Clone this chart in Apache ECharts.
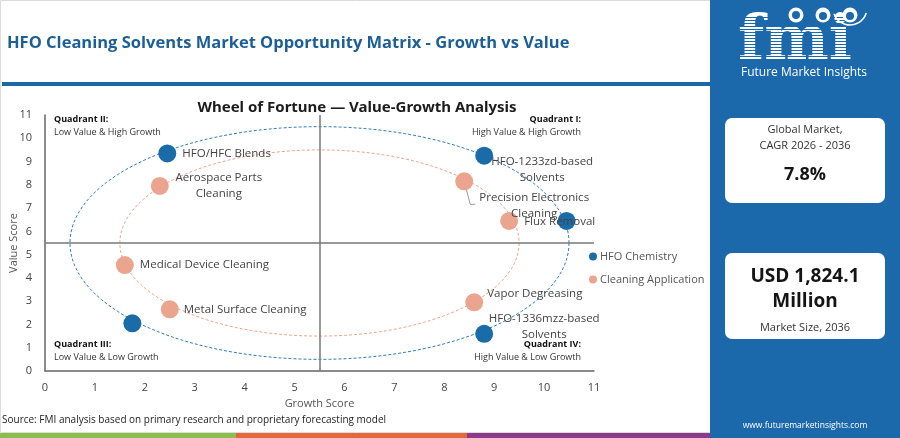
<!DOCTYPE html>
<html>
<head>
<meta charset="utf-8">
<script src="https://cdn.jsdelivr.net/npm/echarts@6/dist/echarts.min.js"></script>
<style>
html,body{margin:0;padding:0;background:#fff;}
#c{width:900px;height:438px;}
</style>
</head>
<body>
<div id="c"></div>
<script>
// ---- data ----
const chemistryNames = ['HFO/HFC Blends', 'HFO-1233zd-based\nSolvents', '', 'HFO-1336mzz-based\nSolvents', ''];
const chemistryGrowth = [2.45, 8.8, 10.45, 8.8, 1.75];
const chemistryValue  = [9.35, 9.25, 6.45, 1.6, 2.05];

const applicationNames = ['Aerospace Parts\nCleaning', 'Medical Device Cleaning', 'Metal Surface Cleaning', 'Precision Electronics\nCleaning', 'Flux Removal', 'Vapor Degreasing'];
const applicationGrowth = [2.3, 1.6, 2.5, 8.4, 9.3, 8.6];
const applicationValue  = [7.95, 4.55, 2.65, 8.15, 6.45, 2.95];

const ringCenter = [5.5, 5.5];
const chemistryRingRadius = [5, 5];
const applicationRingRadius = [4, 4];
const quadrantSplit = 5.5;
const axisTicks = [0, 1, 2, 3, 4, 5, 6, 7, 8, 9, 10, 11];

// ---- layout / style (not data) ----
const BLUE = '#1a6ca9';
const ORANGE = '#eba58f';
const FONT = 'Open Sans';
const PANEL = '#1b68ab';
// label anchor offsets from point centre: [dx, dy, align, showGuide]
const labelLayoutByName = {
  'HFO/HFC Blends': [15, 0, 'left'],
  'HFO-1233zd-based\nSolvents': [58, 14, 'center'],
  'HFO-1336mzz-based\nSolvents': [60, -7, 'center'],
  'Aerospace Parts\nCleaning': [59, 0, 'center'],
  'Medical Device Cleaning': [15, 0, 'left'],
  'Metal Surface Cleaning': [14, 0, 'left'],
  'Precision Electronics\nCleaning': [70, 24, 'center', true],
  'Flux Removal': [15, 1, 'left'],
  'Vapor Degreasing': [13, -9, 'left']
};
const SYM = 18;

function pointData(names, xs, ys) {
  return names.map((n, i) => {
    const item = { name: n, value: [xs[i], ys[i]] };
    const lay = labelLayoutByName[n];
    if (lay) {
      item.label = { show: true, position: [lay[0] + SYM / 2, lay[1] + SYM / 2], align: lay[2], verticalAlign: 'middle' };
    } else {
      item.label = { show: false };
    }
    return item;
  });
}

function ringRender(color) {
  return function (params, api) {
    const c = api.coord([api.value(0), api.value(1)]);
    const s = api.size([api.value(2), api.value(3)]);
    const pts = [];
    for (let i = 0; i <= 160; i++) {
      const a = i / 160 * Math.PI * 2;
      pts.push([c[0] + s[0] * Math.cos(a), c[1] + s[1] * Math.sin(a)]);
    }
    return { type: 'polyline', silent: true, shape: { points: pts },
      style: { stroke: color, lineWidth: 1, lineDash: [3, 2], fill: null } };
  };
}

// small guide line from a point to its moved label (Precision Electronics)
function guideRender(params, api) {
  const p = api.coord([api.value(0), api.value(1)]);
  return { type: 'polyline', silent: true,
    shape: { points: [[p[0], p[1]], [p[0] + 6, p[1] + 23], [p[0] + 11, p[1] + 23]] },
    style: { stroke: '#9a9a9a', lineWidth: 1, fill: null } };
}
const guideData = applicationNames.map((n, i) => [applicationGrowth[i], applicationValue[i], n])
  .filter(d => (labelLayoutByName[d[2]] || [])[3]);

const chart = echarts.init(document.getElementById('c'), null, { renderer: 'canvas' });

const txt = (o) => Object.assign({ type: 'text', silent: true }, o);

const option = {
  backgroundColor: '#fff',
  animation: false,
  textStyle: { fontFamily: FONT },
  title: {
    text: 'Wheel of Fortune \u2014 Value-Growth Analysis',
    left: 352, top: 95, textAlign: 'center',
    textStyle: { fontFamily: 'Noto Sans', fontSize: 15, fontWeight: 'bold', color: '#1c1c1c' }
  },
  legend: {
    data: ['HFO Chemistry', 'Cleaning Application'],
    orient: 'vertical', left: 584, top: 246, itemGap: 12,
    itemWidth: 8, itemHeight: 8, icon: 'circle',
    textStyle: { fontFamily: FONT, fontSize: 11, color: '#555', padding: [0, 0, 0, -2] }
  },
  grid: { left: 45, right: 306, top: 115, bottom: 67, containLabel: false, outerBoundsMode: 'none' },
  xAxis: {
    type: 'value', min: 0, max: 11, interval: 1,
    name: 'Growth Score', nameLocation: 'middle', nameGap: 25,
    nameTextStyle: { fontFamily: FONT, fontSize: 11, color: '#555' },
    axisLine: { show: true, lineStyle: { color: '#666', width: 1.5 } },
    axisTick: { show: false }, splitLine: { show: false },
    axisLabel: { fontFamily: FONT, fontSize: 11, color: '#444', margin: 11,
      formatter: v => axisTicks.includes(v) ? String(v) : '' }
  },
  yAxis: {
    type: 'value', min: 0, max: 11, interval: 1,
    name: 'Value Score', nameLocation: 'middle', nameGap: 26, nameRotate: 90, nameMoveOverlap: false,
    nameTextStyle: { fontFamily: FONT, fontSize: 11, color: '#555' },
    axisLine: { show: true, lineStyle: { color: '#666', width: 1.5 } },
    axisTick: { show: false }, splitLine: { show: false },
    axisLabel: { fontFamily: FONT, fontSize: 11, color: '#444', margin: 13,
      formatter: v => axisTicks.includes(v) ? String(v) : '' }
  },
  series: [
    {
      type: 'custom', name: 'chemRing', renderItem: ringRender('#2e7cbb'),
      data: [[ringCenter[0], ringCenter[1], chemistryRingRadius[0], chemistryRingRadius[1]]],
      clip: false, z: 1, silent: true
    },
    {
      type: 'custom', name: 'appRing', renderItem: ringRender('#eba58f'),
      data: [[ringCenter[0], ringCenter[1], applicationRingRadius[0], applicationRingRadius[1]]],
      clip: false, z: 1, silent: true
    },
    {
      type: 'custom', name: 'guide', renderItem: guideRender,
      data: guideData, clip: false, z: 2, silent: true
    },
    {
      type: 'line', name: 'split', data: [], z: 1,
      markLine: {
        silent: true, symbol: 'none', label: { show: false },
        lineStyle: { color: '#777', width: 1.5, type: 'solid' },
        data: [{ xAxis: quadrantSplit }, { yAxis: quadrantSplit }]
      }
    },
    {
      type: 'scatter', name: 'HFO Chemistry', symbolSize: SYM, z: 3,
      itemStyle: { color: BLUE, opacity: 1 },
      label: { fontFamily: FONT, fontSize: 11.5, color: '#444', formatter: '{b}', lineHeight: 16 },
      data: pointData(chemistryNames, chemistryGrowth, chemistryValue)
    },
    {
      type: 'scatter', name: 'Cleaning Application', symbolSize: SYM, z: 3,
      itemStyle: { color: ORANGE, opacity: 1 },
      label: { fontFamily: FONT, fontSize: 11.5, color: '#444', formatter: '{b}', lineHeight: 16 },
      data: pointData(applicationNames, applicationGrowth, applicationValue)
    }
  ],
  graphic: [
    // main frame
    { type: 'rect', silent: true, z: -10, shape: { x: 0.5, y: 0.5, width: 710, height: 432 }, style: { fill: '#fff', stroke: '#dcdcdc', lineWidth: 1 } },
    txt({ left: 7, top: 35, style: { text: 'HFO Cleaning Solvents Market Opportunity Matrix - Growth vs Value', font: 'bold 16.5px "Open Sans"', fill: '#1c5f95' } }),
    { type: 'rect', silent: true, shape: { x: 2, y: 82, width: 708, height: 4 }, style: { fill: '#1c67a6' } },
    // quadrant annotations
    txt({ left: 54, top: 115, style: { text: 'Quadrant II:', font: 'bold 9px "Open Sans"', fill: '#111' } }),
    txt({ left: 54, top: 128, style: { text: 'Low Value & High Growth', font: '9px "Open Sans"', fill: '#333' } }),
    txt({ right: 319, top: 115, style: { text: 'Quadrant I:', font: 'bold 9px "Open Sans"', fill: '#111' } }),
    txt({ right: 319, top: 128, style: { text: 'High Value & High Growth', font: '9px "Open Sans"', fill: '#333' } }),
    txt({ left: 54, top: 340, style: { text: 'Quadrant III:', font: 'bold 9px "Open Sans"', fill: '#111' } }),
    txt({ left: 54, top: 353, style: { text: 'Low Value & Low Growth', font: '9px "Open Sans"', fill: '#333' } }),
    txt({ right: 319, top: 340, style: { text: 'Quadrant IV:', font: 'bold 9px "Open Sans"', fill: '#111' } }),
    txt({ right: 319, top: 353, style: { text: 'High Value & Low Growth', font: '9px "Open Sans"', fill: '#333' } }),
    // source
    txt({ left: 2, top: 415, style: { text: 'Source: FMI analysis based on primary research and proprietary forecasting model', font: '10px "Open Sans"', fill: '#222' } }),
    // bottom colour bars
    { type: 'rect', silent: true, shape: { x: 0, y: 433, width: 236, height: 5 }, style: { fill: '#8bbf4d' } },
    { type: 'rect', silent: true, shape: { x: 236, y: 433, width: 231, height: 5 }, style: { fill: '#e5683a' } },
    { type: 'rect', silent: true, shape: { x: 467, y: 433, width: 243, height: 5 }, style: { fill: '#8d3a8a' } },
    // right panel
    { type: 'rect', silent: true, shape: { x: 710, y: 0, width: 190, height: 438 }, style: { fill: PANEL } },
    // logo
    txt({ left: 738, top: 13, style: { text: 'fmi', font: 'bold 61px "DejaVu Serif"', fill: '#fff' } }),
    { type: 'group', silent: true, children: Array.from({ length: 15 }, (_, i) => ({
        type: 'rect', shape: { x: 736, y: 17 + i * 3, width: 134, height: 1 }, style: { fill: PANEL } })) },
    { type: 'circle', silent: true, shape: { cx: 796, cy: 15, r: 7.5 }, style: { fill: '#fff' } },
    { type: 'circle', silent: true, shape: { cx: 823, cy: 15, r: 7.5 }, style: { fill: '#fff' } },
    { type: 'circle', silent: true, shape: { cx: 850, cy: 15, r: 7.5 }, style: { fill: '#fff' } },
    { type: 'circle', silent: true, shape: { cx: 796, cy: 15, r: 4 }, style: { fill: PANEL } },
    { type: 'circle', silent: true, shape: { cx: 823, cy: 16, r: 4 }, style: { fill: PANEL } },
    { type: 'circle', silent: true, shape: { cx: 850, cy: 16, r: 4 }, style: { fill: PANEL } },
    { type: 'arc', silent: true, shape: { cx: 850, cy: 8, r: 17, startAngle: 0.3, endAngle: 2.8 }, style: { stroke: '#fff', lineWidth: 1.5, fill: null } },
    txt({ left: 741, top: 67, style: { text: 'Future Market Insights', font: '12px "Open Sans"', fill: '#fff' } }),
    // card 1
    { type: 'rect', silent: true, shape: { x: 725, y: 118, width: 160, height: 85, r: 7 }, style: { fill: '#fff' } },
    txt({ x: 805, y: 130, style: { text: 'Global Market,', font: '11px "Open Sans"', fill: '#333', align: 'center', verticalAlign: 'middle' } }),
    txt({ x: 805, y: 146, style: { text: 'CAGR 2026 - 2036', font: '11px "Open Sans"', fill: '#333', align: 'center', verticalAlign: 'middle' } }),
    txt({ x: 805, y: 175, style: { text: '7.8%', font: 'bold 18px "Open Sans"', fill: '#151515', align: 'center', verticalAlign: 'middle' } }),
    // card 2
    { type: 'rect', silent: true, shape: { x: 725, y: 253, width: 160, height: 86, r: 7 }, style: { fill: '#fff' } },
    txt({ x: 805, y: 277, style: { text: 'USD 1,824.1', font: 'bold 19px "Open Sans"', fill: '#151515', align: 'center', verticalAlign: 'middle' } }),
    txt({ x: 805, y: 302, style: { text: 'Million', font: 'bold 19px "Open Sans"', fill: '#151515', align: 'center', verticalAlign: 'middle' } }),
    txt({ x: 805, y: 328, style: { text: 'Market Size, 2036', font: '11px "Open Sans"', fill: '#333', align: 'center', verticalAlign: 'middle' } }),
    txt({ x: 805, y: 426, style: { text: 'www.futuremarketinsights.com', font: '8.5px "Open Sans"', fill: '#fff', align: 'center', verticalAlign: 'middle' } })
  ]
};
chart.setOption(option);
</script>
</body>
</html>
